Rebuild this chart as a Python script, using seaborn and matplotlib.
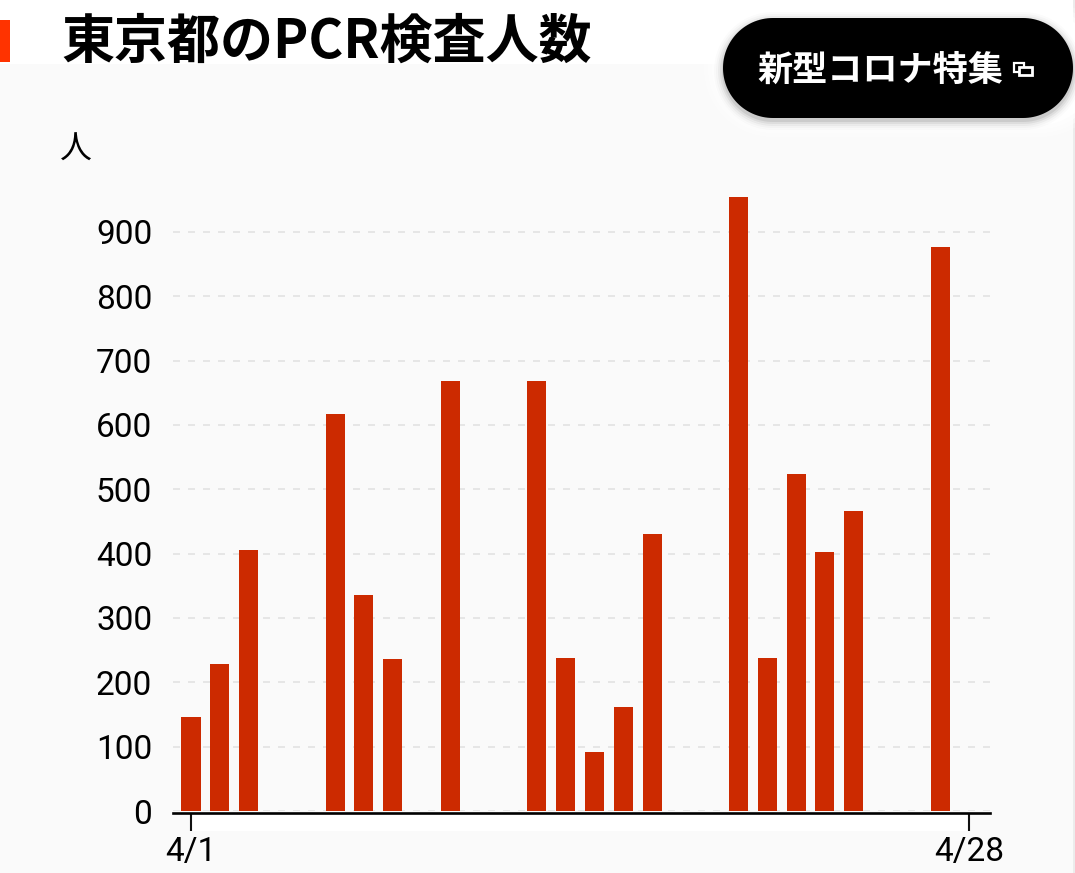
import matplotlib
matplotlib.use("Agg")
import matplotlib.pyplot as plt
from matplotlib.patches import Rectangle, Polygon
import seaborn as sns
import pandas as pd
import numpy as np

days = [1, 2, 3, 6, 7, 8, 10, 13, 14, 15, 16, 17, 20, 21, 22, 23, 24, 27]
tests = [146, 229, 405, 617, 336, 236, 668, 668, 237, 92, 161, 431, 954, 238, 524, 403, 466, 876]
x_ticks = [1, 28]
x_labels = ["4/1", "4/28"]
y_ticks = list(range(0, 1000, 100))
title = "東京都のPCR検査人数"
unit = "人"
button = "新型コロナ特集"

W, H = 1075, 873
sns.set_theme(style="white")
plt.rcParams["font.family"] = ["Noto Sans CJK JP", "DejaVu Sans"]


def pill(x0, y0, x1, y1, **kw):
    r = (y1 - y0) / 2
    t = np.linspace(-np.pi / 2, np.pi / 2, 60)
    xs = np.r_[x1 - r + r * np.cos(t), x0 + r - r * np.cos(t)]
    ys = np.r_[y0 + r + r * np.sin(t), y0 + r - r * np.sin(t)]
    return Polygon(np.c_[xs, ys], closed=True, ec="none", **kw)


fig = plt.figure(figsize=(W / 100, H / 100), dpi=100, facecolor="white")

# page decoration in pixel coordinates
bg = fig.add_axes([0, 0, 1, 1], zorder=0)
bg.set_xlim(0, W)
bg.set_ylim(H, 0)
bg.axis("off")
bg.add_patch(Rectangle((0, 64), 1073, H - 64, fc="#fafafa", ec="none"))
bg.add_patch(Rectangle((1073, 0), 2, H, fc="#ececec", ec="none"))
bg.add_patch(Rectangle((0, 20), 10, 42, fc="#ff3300", ec="none"))
bg.add_patch(Rectangle((191, 813), 778, 18, fc="white", ec="none"))
for grow, a in [(19, .3), (15, .4), (11, .6), (7, 1)]:
    bg.add_patch(pill(723 - grow, 18 - grow, 1090 + grow, 118 + grow, fc="white", alpha=a))

# chart
L, R, T, B = 173, 990, 170, 811
ax = fig.add_axes([L / W, 1 - B / H, (R - L) / W, (B - T) / H], zorder=1)
ax.patch.set_alpha(0)
df = pd.DataFrame({"day": days, "tests": tests})
sns.barplot(data=df, x="day", y="tests", native_scale=True, color="#cc2a00",
            saturation=1, width=0.66, linewidth=0, ax=ax, zorder=3)
px_day = (969 - 191) / 27
ax.set_xlim(1 - (191 - L) / px_day, 28 + (R - 969) / px_day)
ax.set_ylim(0, (B - T) / 0.6435)
ax.set_xlabel("")
ax.set_ylabel("")
ax.set_xticks(x_ticks, x_labels)
ax.set_yticks(y_ticks)
ax.grid(False)
ax.yaxis.grid(True, color="#e6e6e6", linestyle=(0, (3.5, 4)), linewidth=1.44, zorder=0)
ax.xaxis.grid(False)
for s in ["top", "left", "right"]:
    ax.spines[s].set_visible(False)
ax.spines["bottom"].set_linewidth(1.9)
ax.spines["bottom"].set_color("#000000")
ax.spines["bottom"].set_position(("outward", 1.1))
ax.tick_params(axis="x", length=13, width=1.5, color="#111111", pad=4, bottom=True)
ax.tick_params(axis="y", length=0, pad=15)
for t in ax.get_xticklabels() + ax.get_yticklabels():
    t.set_family(["Roboto", "DejaVu Sans"])
    t.set_fontsize(24)
    t.set_color("#000000")

# overlay text and button
top = fig.add_axes([0, 0, 1, 1], zorder=2)
top.set_xlim(0, W)
top.set_ylim(H, 0)
top.axis("off")
top.patch.set_alpha(0)
top.text(61, 42, title, fontsize=38.2, fontweight="bold", color="#000000", va="center", ha="left")
top.text(76, 150, unit, fontsize=23, color="#000000", va="center", ha="center")
for grow, a in [(9, .015), (7, .025), (5, .04), (3, .06), (1, .08)]:
    top.add_patch(pill(723 - grow, 21 - grow, 1073 + grow, 121 + grow, fc="black", alpha=a))
top.add_patch(pill(723, 18, 1073, 118, fc="#000000"))
top.text(880, 70, button, fontsize=25.3, fontweight="bold", color="white", va="center", ha="center")
top.add_patch(Rectangle((1014, 62.5), 10, 9, fc="none", ec="white", lw=1.6))
top.add_patch(Rectangle((1019, 67), 12.5, 8, fc="#000000", ec="white", lw=2))

fig.savefig("out.png", dpi=100)
